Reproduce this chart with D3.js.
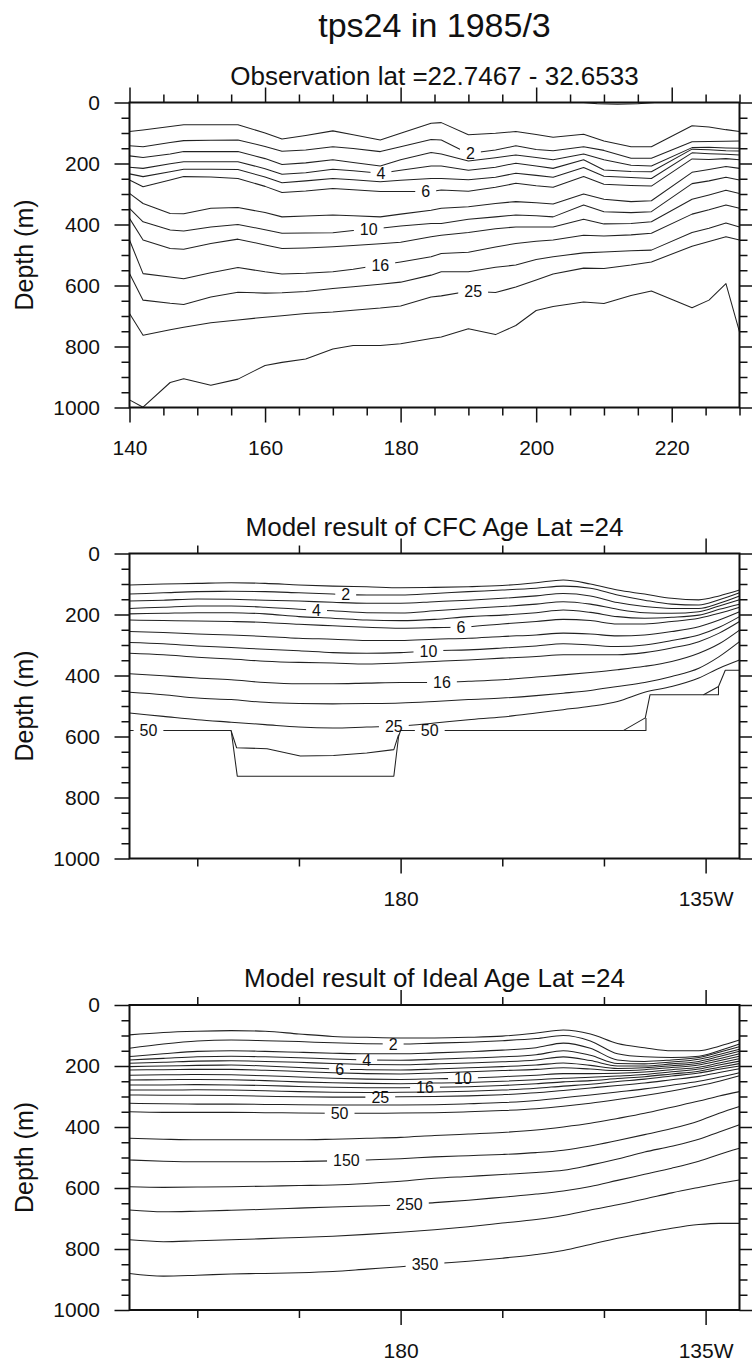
<!DOCTYPE html>
<html>
<head>
<meta charset="utf-8">
<script src="https://cdn.jsdelivr.net/npm/d3@7"></script>
<style>
  html, body { margin: 0; padding: 0; background: #fff; }
  svg { display: block; }
</style>
</head>
<body>
<svg id="chart" width="752" height="1363"></svg>
<script>
// ---------------------------------------------------------------
// Titles and tick labels
// ---------------------------------------------------------------
const mainTitle = "tps24 in 1985/3";
const obsTitle = "Observation lat =22.7467 - 32.6533";
const cfcTitle = "Model result of CFC Age Lat =24";
const idealTitle = "Model result of Ideal Age Lat =24";
const depthLabel = "Depth (m)";

const depthTicks = [0, 200, 400, 600, 800, 1000];
const obsLonTicks = [140, 160, 180, 200, 220];
const modelLonTicks = [180, 225];
const modelLonTickLabels = ["180", "135W"];
const modelLonMinor = [150, 165, 195, 210];

// ---------------------------------------------------------------
// Observation section: contour depths (m) along longitude
// ---------------------------------------------------------------
const obsLon = [140, 142, 146, 148, 152, 156, 160, 162.5, 166, 170, 173, 177, 180, 184.5,
                186, 190, 194, 197, 200, 202.5, 207, 210, 214, 217, 223, 225.5, 228, 230];
const obsLevels = [1, 2, 3, 4, 5, 6, 8, 10, 12, 16, 20, 25, 50];
const obsDepth = [
  [95, 90, 79, 73, 73, 73, 100, 120, 108, 93, 106, 123, 101, 68, 66, 106, 101, 95, 105, 114, 104, 126, 145, 145, 76, 80, 89, 95],
  [142, 145, 131, 125, 124, 123, 144, 160, 156, 145, 151, 161, 145, 121, 123, 167, 156, 142, 154, 158, 145, 157, 183, 183, 129, 128, 127, 126],
  [175, 180, 169, 161, 161, 161, 184, 203, 198, 188, 197, 208, 188, 164, 169, 192, 181, 172, 180, 188, 169, 188, 206, 208, 148, 147, 149, 150],
  [212, 216, 201, 194, 194, 194, 217, 235, 230, 219, 224, 232, 222, 208, 208, 222, 212, 199, 208, 216, 188, 221, 226, 227, 153, 155, 158, 159],
  [234, 243, 227, 219, 219, 220, 244, 263, 257, 249, 253, 260, 255, 249, 249, 253, 245, 232, 239, 245, 213, 242, 246, 249, 165, 168, 170, 172],
  [254, 276, 254, 243, 244, 249, 275, 295, 290, 282, 286, 292, 292, 292, 287, 291, 278, 265, 273, 278, 243, 268, 272, 274, 185, 187, 184, 188],
  [298, 331, 364, 365, 347, 344, 361, 375, 372, 369, 371, 375, 366, 353, 347, 342, 331, 325, 329, 333, 300, 317, 325, 322, 229, 220, 210, 216],
  [347, 391, 418, 421, 408, 400, 417, 429, 428, 427, 420, 412, 405, 397, 397, 383, 375, 369, 371, 375, 336, 358, 361, 358, 266, 257, 245, 254],
  [380, 451, 479, 481, 462, 448, 467, 479, 477, 473, 469, 463, 458, 440, 435, 426, 414, 408, 408, 408, 383, 398, 397, 391, 317, 303, 288, 298],
  [451, 561, 572, 578, 558, 541, 555, 562, 560, 555, 547, 533, 523, 506, 495, 491, 474, 462, 455, 451, 435, 438, 434, 429, 366, 352, 336, 347],
  [561, 648, 658, 662, 638, 622, 625, 624, 620, 610, 604, 596, 589, 566, 555, 555, 540, 533, 515, 506, 493, 490, 486, 484, 426, 412, 395, 408],
  [692, 763, 745, 737, 722, 713, 704, 699, 692, 687, 681, 674, 667, 638, 634, 619, 623, 605, 582, 562, 543, 544, 533, 523, 471, 456, 440, 451],
  [975, 999, 918, 906, 927, 907, 862, 852, 841, 808, 797, 797, 791, 774, 769, 742, 761, 731, 682, 669, 654, 659, 633, 618, 673, 648, 594, 752]
];
// small level-1 patch just under the surface
const obsSurfaceLon = [207, 209, 212, 215, 217.5];
const obsSurfaceDepth = [0, 4, 6, 4, 0];
const obsLabelLevels = [2, 4, 6, 10, 16, 25];
const obsLabelLon = [190.3, 177.1, 183.7, 175.3, 177.0, 190.7];

// ---------------------------------------------------------------
// Model sections (lat 24): shared longitude grid
// ---------------------------------------------------------------
const modelLon = [140, 145, 150, 155, 160, 165, 170, 175, 180, 185, 190, 195, 200, 204, 208, 212, 216, 220, 224, 227, 230];

// CFC age
const cfcLevels = [1, 2, 3, 4, 5, 6, 8, 10, 12, 16, 20, 25];
const cfcDepth = [
  [103, 100, 98, 96, 98, 103, 107, 109, 112, 111, 109, 105, 96, 87, 100, 120, 133, 147, 152, 139, 120],
  [133, 129, 125, 124, 125, 129, 133, 136, 136, 131, 125, 120, 114, 107, 114, 136, 153, 166, 169, 152, 129],
  [156, 153, 149, 150, 153, 156, 160, 163, 163, 158, 153, 147, 139, 131, 139, 161, 174, 180, 180, 163, 139],
  [180, 176, 172, 172, 176, 183, 188, 194, 195, 188, 180, 174, 166, 158, 166, 183, 194, 196, 191, 172, 152],
  [198, 196, 194, 194, 198, 207, 212, 218, 220, 216, 207, 202, 194, 185, 193, 207, 212, 209, 202, 183, 166],
  [218, 220, 221, 223, 226, 232, 237, 242, 245, 243, 240, 231, 223, 216, 220, 231, 231, 223, 212, 196, 176],
  [256, 259, 264, 267, 272, 278, 281, 285, 285, 281, 278, 272, 267, 261, 264, 270, 267, 256, 240, 218, 191],
  [292, 296, 303, 308, 314, 319, 325, 327, 325, 319, 316, 310, 303, 296, 300, 305, 300, 285, 267, 242, 207],
  [327, 332, 340, 346, 353, 357, 359, 362, 359, 354, 349, 343, 338, 332, 332, 332, 325, 310, 289, 261, 223],
  [394, 401, 408, 414, 423, 427, 427, 425, 423, 423, 419, 414, 405, 398, 390, 381, 370, 354, 327, 296, 251],
  [455, 463, 474, 479, 488, 492, 493, 492, 490, 485, 479, 474, 466, 458, 449, 436, 423, 403, 376, 338, 289],
  [523, 534, 545, 553, 561, 569, 572, 569, 566, 556, 545, 536, 523, 512, 501, 485, 455, 436, 408, 376, 349]
];
// level 50 follows the edge of the valid model cells
const cfc50Lon   = [140, 155, 155.9, 179, 179.7, 180, 212.9, 216.1, 216.8, 224.7, 226.9, 227.9, 230];
const cfc50Depth = [580, 580, 730, 730, 600, 580, 580, 539, 463, 463, 436, 383, 383];
// level 35 inside the deep pocket west of the dateline
const cfc35Lon   = [155, 155.8, 160.3, 165.2, 170.1, 175, 179, 179.7];
const cfc35Depth = [582, 637, 640, 664, 662, 654, 643, 594];
// cell corners at the two steps of the valid-data edge
const cfcStep1Lon = [212.9, 216.2, 216.2];
const cfcStep1Depth = [580, 580, 539];
const cfcStep2Lon = [224.7, 226.9, 226.9];
const cfcStep2Depth = [463, 463, 436];
const cfcLabelLevels = [2, 4, 6, 10, 16, 25, 50, 50];
const cfcLabelLon = [171.9, 167.6, 188.9, 184.1, 186.1, 179.0, 142.8, 184.3];

// Ideal age
const idealLevels = [1, 2, 3, 4, 5, 6, 8, 10, 12, 16, 20, 25, 35, 50, 100, 150, 200, 250, 300, 350];
const idealDepth = [
  [98, 90, 86, 84, 86, 95, 103, 106, 108, 108, 106, 102, 92, 82, 95, 126, 140, 150, 150, 135, 115],
  [142, 128, 118, 115, 117, 120, 124, 127, 128, 125, 122, 117, 110, 100, 118, 160, 170, 172, 168, 150, 128],
  [169, 160, 152, 150, 152, 155, 158, 160, 160, 157, 153, 148, 140, 125, 142, 180, 185, 180, 172, 155, 137],
  [180, 175, 170, 168, 170, 173, 177, 180, 181, 178, 174, 170, 163, 150, 165, 192, 193, 187, 178, 162, 145],
  [191, 188, 184, 183, 185, 188, 192, 195, 196, 193, 190, 186, 180, 170, 182, 200, 200, 193, 185, 169, 152],
  [202, 200, 198, 197, 200, 205, 210, 212, 213, 210, 206, 202, 197, 190, 198, 208, 206, 199, 191, 176, 160],
  [213, 212, 211, 211, 214, 218, 222, 225, 226, 223, 219, 215, 211, 206, 210, 215, 212, 205, 197, 183, 168],
  [230, 229, 228, 229, 232, 236, 240, 243, 244, 242, 240, 235, 230, 225, 225, 224, 220, 212, 204, 190, 176],
  [246, 245, 244, 245, 248, 252, 255, 257, 258, 256, 254, 250, 245, 240, 237, 233, 228, 219, 210, 197, 184],
  [262, 262, 261, 262, 264, 267, 270, 271, 271, 270, 268, 264, 258, 252, 248, 241, 235, 226, 217, 204, 192],
  [279, 279, 278, 279, 281, 284, 286, 287, 286, 285, 283, 279, 273, 266, 260, 251, 243, 233, 223, 211, 200],
  [295, 296, 296, 297, 299, 301, 302, 302, 301, 300, 298, 294, 288, 280, 272, 264, 256, 245, 234, 221, 209],
  [322, 324, 325, 325, 326, 327, 328, 328, 328, 327, 324, 320, 313, 304, 295, 285, 275, 263, 250, 237, 222],
  [350, 352, 352, 352, 353, 354, 355, 355, 354, 353, 350, 346, 340, 332, 322, 310, 297, 282, 265, 250, 232],
  [437, 440, 442, 442, 442, 442, 440, 437, 434, 428, 423, 418, 410, 400, 388, 372, 355, 335, 315, 298, 284],
  [508, 512, 514, 514, 514, 513, 511, 508, 504, 498, 494, 490, 484, 476, 462, 444, 425, 405, 380, 355, 333],
  [596, 598, 597, 596, 594, 592, 590, 585, 578, 568, 562, 556, 549, 542, 525, 505, 482, 463, 440, 416, 393],
  [672, 678, 676, 673, 670, 666, 662, 659, 656, 648, 640, 630, 620, 610, 595, 575, 555, 535, 512, 490, 470],
  [770, 776, 773, 770, 766, 762, 758, 752, 745, 737, 727, 715, 703, 690, 672, 655, 636, 616, 598, 585, 574],
  [880, 889, 886, 882, 880, 878, 874, 866, 858, 848, 840, 830, 818, 805, 785, 765, 748, 732, 720, 716, 716]
];
const idealLabelLevels = [2, 4, 6, 10, 16, 25, 50, 150, 250, 350];
const idealLabelLon = [178.9, 175, 171, 189.2, 183.6, 177, 171, 172, 181.3, 183.6];

// ---------------------------------------------------------------
// Layout
// ---------------------------------------------------------------
const W = 752, H = 1363;
const FONT = '"Liberation Sans", Arial, Helvetica, sans-serif';
const plotLeft = 129.5, plotRight = 739.5, plotH = 305;
const lonDomain = [140, 230];
const depthDomain = [0, 1000];
const majorLen = 15, minorLen = 8;
const ink = "#111";

const svg = d3.select("#chart");
svg.append("rect").attr("width", W).attr("height", H).attr("fill", "#fff");
const defs = svg.append("defs");

svg.append("text")
  .attr("x", (plotLeft + plotRight) / 2).attr("y", 37)
  .attr("text-anchor", "middle")
  .attr("font-family", FONT).attr("font-size", 34)
  .attr("fill", ink)
  .text(mainTitle);

const zip = (lons, deps) => lons.map((lon, j) => [lon, deps[j]]);
const gridLines = (levels, lons, rows) => levels.map((lev, i) => ({ level: lev, pts: zip(lons, rows[i]) }));

function depthAt(pts, lon) {
  for (let i = 0; i < pts.length - 1; i++) {
    const [a0, d0] = pts[i], [a1, d1] = pts[i + 1];
    if (a1 !== a0 && lon >= Math.min(a0, a1) && lon <= Math.max(a0, a1)) {
      return d0 + (d1 - d0) * (lon - a0) / (a1 - a0);
    }
  }
  return pts[pts.length - 1][1];
}

const depthMinor = d3.range(0, 1001, 50).filter(d => d % 200 !== 0);
const obsLonMinor = d3.range(140, 231, 5).filter(d => d % 20 !== 0);

const panels = [
  {
    id: "obs", title: obsTitle, top: 102.5,
    xMajor: obsLonTicks, xLabels: obsLonTicks.map(String), xMinor: obsLonMinor,
    curve: d3.curveLinear,
    lines: gridLines(obsLevels, obsLon, obsDepth)
      .concat([{ level: 1, pts: zip(obsSurfaceLon, obsSurfaceDepth) }]),
    labels: obsLabelLevels.map((lev, i) => ({ level: lev, lon: obsLabelLon[i] }))
  },
  {
    id: "cfc", title: cfcTitle, top: 553.5,
    xMajor: modelLonTicks, xLabels: modelLonTickLabels, xMinor: modelLonMinor,
    curve: d3.curveMonotoneX,
    lines: gridLines(cfcLevels, modelLon, cfcDepth).concat([
      { level: 50, pts: zip(cfc50Lon, cfc50Depth), curve: d3.curveLinear },
      { level: 35, pts: zip(cfc35Lon, cfc35Depth), curve: d3.curveLinear },
      { level: 50, pts: zip(cfcStep1Lon, cfcStep1Depth), curve: d3.curveLinear },
      { level: 50, pts: zip(cfcStep2Lon, cfcStep2Depth), curve: d3.curveLinear }
    ]),
    labels: cfcLabelLevels.map((lev, i) => ({ level: lev, lon: cfcLabelLon[i] }))
  },
  {
    id: "ideal", title: idealTitle, top: 1005,
    xMajor: modelLonTicks, xLabels: modelLonTickLabels, xMinor: modelLonMinor,
    curve: d3.curveMonotoneX,
    lines: gridLines(idealLevels, modelLon, idealDepth),
    labels: idealLabelLevels.map((lev, i) => ({ level: lev, lon: idealLabelLon[i] }))
  }
];

function styleAxis(sel, withText) {
  sel.attr("font-family", FONT).attr("font-size", 21);
  sel.select(".domain").remove();
  sel.selectAll(".tick line").attr("stroke", ink).attr("stroke-width", 1.5);
  if (withText) sel.selectAll(".tick text").attr("fill", ink);
  else sel.selectAll(".tick text").remove();
}

panels.forEach(p => {
  const x = d3.scaleLinear().domain(lonDomain).range([plotLeft, plotRight]);
  const y = d3.scaleLinear().domain(depthDomain).range([p.top, p.top + plotH]);
  const g = svg.append("g").attr("class", "panel-" + p.id);

  // panel title
  g.append("text")
    .attr("x", (plotLeft + plotRight) / 2).attr("y", p.top - 18)
    .attr("text-anchor", "middle")
    .attr("font-family", FONT).attr("font-size", 26)
    .attr("fill", ink)
    .text(p.title);

  // y-axis title
  g.append("text")
    .attr("transform", `translate(33,${p.top + plotH / 2}) rotate(-90)`)
    .attr("text-anchor", "middle")
    .attr("font-family", FONT).attr("font-size", 25)
    .attr("fill", ink)
    .text(depthLabel);

  // contour lines, clipped to the plot area
  const clipId = "clip-" + p.id;
  defs.append("clipPath").attr("id", clipId)
    .append("rect").attr("x", plotLeft).attr("y", p.top)
    .attr("width", plotRight - plotLeft).attr("height", plotH);
  const body = g.append("g").attr("clip-path", `url(#${clipId})`);
  const labelLayer = g.append("g");

  // place labels first so each labelled line can be broken around its text
  const gaps = new Map();
  p.labels.forEach(lb => {
    const line = p.lines.find(L => L.level === lb.level &&
      lb.lon >= d3.min(L.pts, d => d[0]) && lb.lon <= d3.max(L.pts, d => d[0]));
    if (!line) return;
    const px = x(lb.lon), py = y(depthAt(line.pts, lb.lon));
    const t = labelLayer.append("text")
      .attr("x", px).attr("y", py).attr("dy", "0.36em")
      .attr("text-anchor", "middle")
      .attr("font-family", FONT).attr("font-size", 16)
      .attr("fill", ink)
      .text(lb.level);
    const w = t.node().getComputedTextLength();
    if (!gaps.has(line)) gaps.set(line, []);
    gaps.get(line).push({ x: px - w / 2 - 6, y: py - 7, w: w + 12, h: 14 });
  });

  p.lines.forEach((L, i) => {
    const gen = d3.line().x(d => x(d[0])).y(d => y(d[1])).curve(L.curve || p.curve);
    const path = body.append("path")
      .attr("d", gen(L.pts))
      .attr("fill", "none")
      .attr("stroke", "#222")
      .attr("stroke-width", 1.05)
      .attr("stroke-linejoin", "round");
    if (gaps.has(L)) {
      const mid = `gap-${p.id}-${i}`;
      const m = defs.append("mask").attr("id", mid)
        .attr("maskUnits", "userSpaceOnUse")
        .attr("x", 0).attr("y", 0).attr("width", W).attr("height", H);
      m.append("rect").attr("width", W).attr("height", H).attr("fill", "#fff");
      gaps.get(L).forEach(r => m.append("rect")
        .attr("x", r.x).attr("y", r.y).attr("width", r.w).attr("height", r.h).attr("fill", "#000"));
      path.attr("mask", `url(#${mid})`);
    }
  });

  // frame
  g.append("rect")
    .attr("x", plotLeft).attr("y", p.top)
    .attr("width", plotRight - plotLeft).attr("height", plotH)
    .attr("fill", "none").attr("stroke", ink).attr("stroke-width", 2);

  const bottom = p.top + plotH;
  // bottom axis with labels
  g.append("g").attr("transform", `translate(0,${bottom})`)
    .call(d3.axisBottom(x).tickValues(p.xMajor).tickSize(majorLen).tickSizeOuter(0)
      .tickPadding(18).tickFormat((d, i) => p.xLabels[i]))
    .call(s => styleAxis(s, true));
  g.append("g").attr("transform", `translate(0,${bottom})`)
    .call(d3.axisBottom(x).tickValues(p.xMinor).tickSize(minorLen).tickSizeOuter(0))
    .call(s => styleAxis(s, false));
  // top axis
  g.append("g").attr("transform", `translate(0,${p.top})`)
    .call(d3.axisTop(x).tickValues(p.xMajor).tickSize(majorLen).tickSizeOuter(0))
    .call(s => styleAxis(s, false));
  g.append("g").attr("transform", `translate(0,${p.top})`)
    .call(d3.axisTop(x).tickValues(p.xMinor).tickSize(minorLen).tickSizeOuter(0))
    .call(s => styleAxis(s, false));
  // left axis with labels
  g.append("g").attr("transform", `translate(${plotLeft},0)`)
    .call(d3.axisLeft(y).tickValues(depthTicks).tickSize(majorLen).tickSizeOuter(0)
      .tickPadding(14.5).tickFormat(d3.format("d")))
    .call(s => styleAxis(s, true));
  g.append("g").attr("transform", `translate(${plotLeft},0)`)
    .call(d3.axisLeft(y).tickValues(depthMinor).tickSize(minorLen).tickSizeOuter(0))
    .call(s => styleAxis(s, false));
  // right axis
  g.append("g").attr("transform", `translate(${plotRight},0)`)
    .call(d3.axisRight(y).tickValues(depthTicks).tickSize(majorLen).tickSizeOuter(0))
    .call(s => styleAxis(s, false));
  g.append("g").attr("transform", `translate(${plotRight},0)`)
    .call(d3.axisRight(y).tickValues(depthMinor).tickSize(minorLen).tickSizeOuter(0))
    .call(s => styleAxis(s, false));
});
</script>
</body>
</html>
